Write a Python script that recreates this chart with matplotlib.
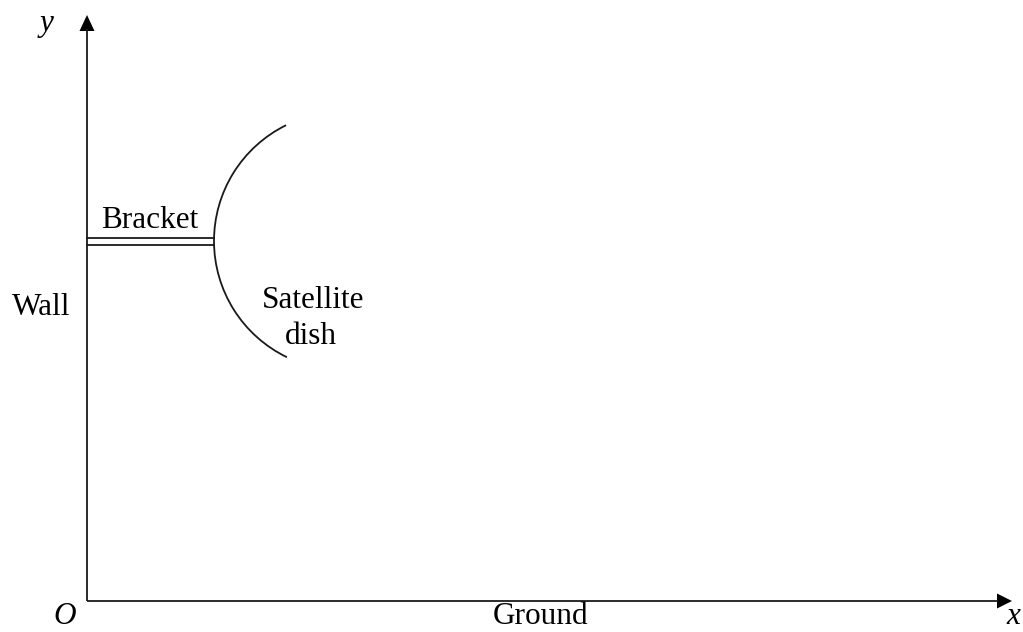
import math
import matplotlib
matplotlib.use("Agg")
import matplotlib.pyplot as plt
from matplotlib.patches import Arc

# Diagram geometry (pixel-space coordinates of the reference picture)
origin = (87, 601)
x_axis_end = (1012, 601)
y_axis_end = (87, 15)
bracket_x = [87, 214]
bracket_y = [238, 245]
dish_top = (286, 125)
dish_vertex = (214, 241)
dish_bottom = (287, 357)

label_texts = ["Bracket", "Wall", "Satellite", "dish", "Ground"]
label_x = [150, 41, 313, 311, 541]
label_y = [228, 315, 308, 344, 624]

axis_names = ["O", "x", "y"]
axis_name_x = [65, 1013, 47]
axis_name_y = [624, 624, 31]

fig = plt.figure(figsize=(10.23, 6.32), dpi=100)
ax = fig.add_axes([0, 0, 1, 1])
ax.set_xlim(0, 1023)
ax.set_ylim(632, 0)
ax.axis("off")

lw = 1.3
col = "#1a1a1a"
# axes with arrows
ax.plot([origin[0], x_axis_end[0] - 14], [origin[1], origin[1]], color=col, lw=lw,
        solid_capstyle="butt")
ax.plot([origin[0], origin[0]], [origin[1], y_axis_end[1] + 14], color=col, lw=lw,
        solid_capstyle="butt")
ax.fill([x_axis_end[0], x_axis_end[0] - 15, x_axis_end[0] - 15],
        [x_axis_end[1], x_axis_end[1] - 7.5, x_axis_end[1] + 7.5], color="black", lw=0)
ax.fill([y_axis_end[0], y_axis_end[0] - 7.5, y_axis_end[0] + 7.5],
        [y_axis_end[1], y_axis_end[1] + 16, y_axis_end[1] + 16], color="black", lw=0)

# bracket
for yy in bracket_y:
    ax.plot(bracket_x, [yy, yy], color=col, lw=lw)

# dish: circular arc through top end, vertex and bottom end
cy = dish_vertex[1]
half = (dish_bottom[1] - dish_top[1]) / 2
sag = (dish_top[0] + dish_bottom[0]) / 2 - dish_vertex[0]
R = (half ** 2 + sag ** 2) / (2 * sag)
cx = dish_vertex[0] + R
ang_top = math.degrees(math.atan2(dish_top[1] - cy, dish_top[0] - cx))
ang_bot = math.degrees(math.atan2(dish_bottom[1] - cy, dish_bottom[0] - cx))
theta1, theta2 = sorted([ang_top % 360, ang_bot % 360])
ax.add_patch(Arc((cx, cy), 2 * R, 2 * R, theta1=theta1, theta2=theta2,
                 color=col, lw=lw))

serif = ["Liberation Serif", "DejaVu Serif"]
fs = 22.5
for txt, tx, ty in zip(label_texts, label_x, label_y):
    ax.text(tx, ty, txt, fontsize=fs, family=serif, ha="center", va="baseline")

for txt, tx, ty in zip(axis_names, axis_name_x, axis_name_y):
    ax.text(tx, ty, txt, fontsize=fs, family=serif, style="italic",
            ha="center", va="baseline")

fig.savefig("out.png", dpi=100)
